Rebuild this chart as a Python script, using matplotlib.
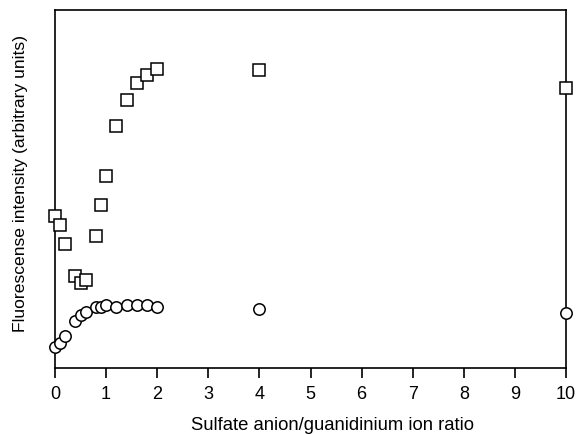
import matplotlib
matplotlib.use("Agg")
import matplotlib.pyplot as plt

plt.rcParams['font.family'] = ['Liberation Sans', 'DejaVu Sans']

ratio = [0, 0.1, 0.2, 0.4, 0.5, 0.6, 0.8, 0.9, 1.0, 1.2, 1.4, 1.6, 1.8, 2.0, 4, 10]
squares = [42.4, 39.9, 34.7, 25.6, 23.8, 24.6, 36.8, 45.5, 53.6, 67.6, 74.8, 79.6, 81.8, 83.5, 83.3, 78.3]
circles = [6.0, 6.9, 9.0, 13.0, 14.8, 15.6, 17.0, 17.0, 17.5, 17.0, 17.5, 17.5, 17.5, 17.0, 16.4, 15.3]
xticks = list(range(0, 11))

fig = plt.figure(figsize=(5.77, 4.35), dpi=100)
ax = fig.add_axes([55/577, 66/435, 511/577, 358/435])

ax.plot(ratio, squares, linestyle='none', marker='s', markersize=8, markerfacecolor='white',
        markeredgecolor='black', markeredgewidth=1.1, clip_on=False, zorder=5)
ax.plot(ratio, circles, linestyle='none', marker='o', markersize=8.2, markerfacecolor='white',
        markeredgecolor='black', markeredgewidth=1.1, clip_on=False, zorder=5)

ax.set_xlim(0, 10)
ax.set_ylim(0, 100)
ax.set_xticks(xticks)
ax.set_yticks([])
ax.tick_params(axis='x', direction='out', length=7.2, width=1.2, pad=5, labelsize=13)
for s in ax.spines.values():
    s.set_linewidth(1.2)

ax.set_xlabel('Sulfate anion/guanidinium ion ratio', fontsize=13.3)
ax.set_ylabel('Fluorescense intensity (arbitrary units)', fontsize=12.6)
ax.xaxis.set_label_coords(0.543, -0.135)
ax.yaxis.set_label_coords(-0.053, 0.518)

fig.savefig('out.png', dpi=100)
